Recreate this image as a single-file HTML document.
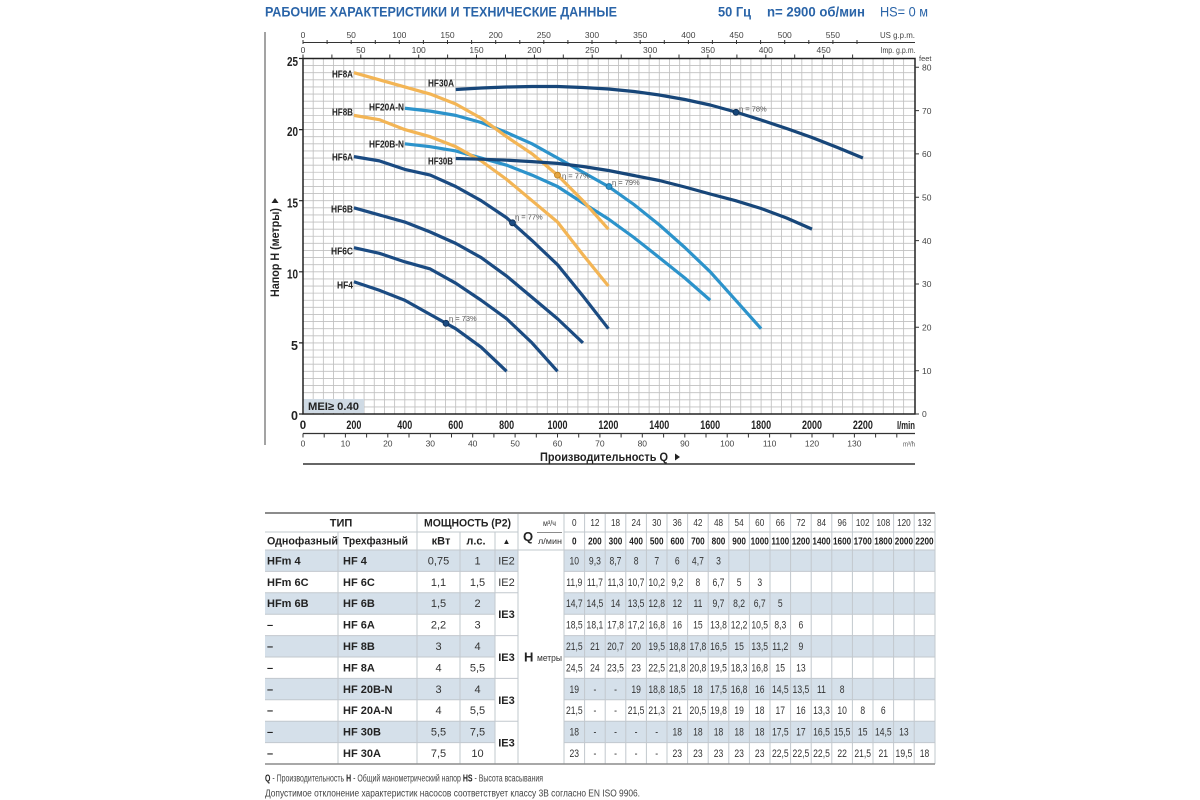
<!DOCTYPE html>
<html><head><meta charset="utf-8">
<style>
html,body{margin:0;padding:0;background:#fff;width:1200px;height:800px;overflow:hidden}
svg{display:block}
text{font-family:"Liberation Sans","DejaVu Sans",sans-serif}
.ax{font-size:8.5px;fill:#444;text-anchor:middle}
.yl{font-size:12.5px;font-weight:bold;fill:#222;text-anchor:end}
.xl{font-size:11.5px;font-weight:bold;fill:#222;text-anchor:middle}
.cl{font-size:10px;font-weight:bold;fill:#222;text-anchor:end}
.eta{font-size:7.5px;fill:#555}
.n{font-size:11px;fill:#333;text-anchor:middle}
.nb{font-size:10.5px;fill:#222;text-anchor:middle;font-weight:bold}
.nh{font-size:10.5px;fill:#333;text-anchor:middle}
.tb{font-size:11px;font-weight:bold;fill:#222}
.tn{font-size:11px;fill:#333;text-anchor:middle}
</style></head>
<body>
<svg width="1200" height="800" viewBox="0 0 1200 800" xmlns="http://www.w3.org/2000/svg">
<rect width="1200" height="800" fill="#fff"/>

<!-- Title -->
<text x="265" y="16.5" font-size="14" font-weight="bold" fill="#2a64a8" textLength="352" lengthAdjust="spacingAndGlyphs">РАБОЧИЕ ХАРАКТЕРИСТИКИ И ТЕХНИЧЕСКИЕ ДАННЫЕ</text>
<text x="718" y="16.5" font-size="14" font-weight="bold" fill="#2a64a8" textLength="33" lengthAdjust="spacingAndGlyphs">50 Гц</text>
<text x="767" y="16.5" font-size="14" font-weight="bold" fill="#2a64a8" textLength="98" lengthAdjust="spacingAndGlyphs">n= 2900 об/мин</text>
<text x="880" y="16.5" font-size="14" fill="#2a64a8" textLength="48" lengthAdjust="spacingAndGlyphs">HS= 0 м</text>

<!-- left vertical rule -->
<line x1="265" y1="32" x2="265" y2="445" stroke="#666" stroke-width="1.2"/>

<!-- grid -->
<path fill="none" stroke="#c0c0c0" stroke-width="0.85" d="M313.18 58.5
v355.5m10.18-355.5v355.5m10.18-355.5v355.5m10.18-355.5v355.5m10.18-355.5v355.5m10.18-355.5v355.5m10.18-355.5v355.5m10.18-355.5v355.5m10.18-355.5v355.5m10.18-355.5v355.5m10.18-355.5
v355.5m10.18-355.5v355.5m10.18-355.5v355.5m10.18-355.5v355.5m10.18-355.5v355.5m10.18-355.5v355.5m10.18-355.5v355.5m10.18-355.5v355.5m10.18-355.5v355.5m10.18-355.5v355.5m10.18-355.5
v355.5m10.18-355.5v355.5m10.18-355.5v355.5m10.18-355.5v355.5m10.18-355.5v355.5m10.18-355.5v355.5m10.18-355.5v355.5m10.18-355.5v355.5m10.18-355.5v355.5m10.18-355.5v355.5m10.18-355.5
v355.5m10.18-355.5v355.5m10.18-355.5v355.5m10.18-355.5v355.5m10.18-355.5v355.5m10.18-355.5v355.5m10.18-355.5v355.5m10.18-355.5v355.5m10.18-355.5v355.5m10.18-355.5v355.5m10.18-355.5
v355.5m10.18-355.5v355.5m10.18-355.5v355.5m10.18-355.5v355.5m10.18-355.5v355.5m10.18-355.5v355.5m10.18-355.5v355.5m10.18-355.5v355.5m10.18-355.5v355.5m10.18-355.5v355.5m10.18-355.5
v355.5m10.18-355.5v355.5m10.18-355.5v355.5m10.18-355.5v355.5m10.18-355.5v355.5m10.18-355.5v355.5m10.18-355.5v355.5m10.18-355.5v355.5m10.18-355.5v355.5m10.18-355.5
M303 406.89
h612m-612-7.11h612m-612-7.11h612m-612-7.11h612m-612-7.11h612m-612-7.11h612m-612-7.11h612m-612-7.11h612m-612-7.11h612m-612-7.11h612m-612-7.11
h612m-612-7.11h612m-612-7.11h612m-612-7.11h612m-612-7.11h612m-612-7.11h612m-612-7.11h612m-612-7.11h612m-612-7.11h612m-612-7.11h612m-612-7.11
h612m-612-7.11h612m-612-7.11h612m-612-7.11h612m-612-7.11h612m-612-7.11h612m-612-7.11h612m-612-7.11h612m-612-7.11h612m-612-7.11h612m-612-7.11
h612m-612-7.11h612m-612-7.11h612m-612-7.11h612m-612-7.11h612m-612-7.11h612m-612-7.11h612m-612-7.11h612m-612-7.11h612m-612-7.11h612m-612-7.11
h612m-612-7.11h612m-612-7.11h612m-612-7.11h612m-612-7.11h612m-612-7.11h612m-612-7.11h612m-612-7.11h612m-612-7.11h612m-612-7.11"/>

<!-- plot frame -->
<rect x="303" y="58.5" width="612" height="355.5" fill="none" stroke="#222" stroke-width="1.5"/>

<!-- US gpm axis -->
<line x1="303" y1="42.5" x2="915" y2="42.5" stroke="#333" stroke-width="1"/>
<path stroke="#333" stroke-width="1" d="M303 40v4M327.1 40v4M351.2 40v4M375.3 40v4M399.3 40v4M423.4 40v4M447.5 40v4M471.6 40v4M495.7 40v4M519.8 40v4M543.8 40v4M567.9 40v4M592 40v4M616.1 40v4M640.2 40v4M664.3 40v4M688.4 40v4M712.4 40v4M736.5 40v4M760.6 40v4M784.7 40v4M808.8 40v4M832.9 40v4M857 40v4"/>
<g class="ax">
<text x="303" y="38">0</text><text x="351.2" y="38">50</text><text x="399.3" y="38">100</text><text x="447.5" y="38">150</text><text x="495.7" y="38">200</text><text x="543.8" y="38">250</text><text x="592" y="38">300</text><text x="640.2" y="38">350</text><text x="688.4" y="38">400</text><text x="736.5" y="38">450</text><text x="784.7" y="38">500</text><text x="832.9" y="38">550</text>
</g>
<text x="880" y="38" font-size="8.5" fill="#444" textLength="35" lengthAdjust="spacingAndGlyphs">US g.p.m.</text>

<!-- Imp gpm axis -->
<path stroke="#333" stroke-width="1" d="M303 54.5v4M331.9 54.5v4M360.8 54.5v4M389.8 54.5v4M418.7 54.5v4M447.6 54.5v4M476.5 54.5v4M505.5 54.5v4M534.4 54.5v4M563.3 54.5v4M592.2 54.5v4M621.2 54.5v4M650.1 54.5v4M679 54.5v4M707.9 54.5v4M736.9 54.5v4M765.8 54.5v4M794.7 54.5v4M823.6 54.5v4M852.6 54.5v4"/>
<g class="ax">
<text x="303" y="53">0</text><text x="360.8" y="53">50</text><text x="418.7" y="53">100</text><text x="476.5" y="53">150</text><text x="534.4" y="53">200</text><text x="592.2" y="53">250</text><text x="650.1" y="53">300</text><text x="707.9" y="53">350</text><text x="765.8" y="53">400</text><text x="823.6" y="53">450</text>
</g>
<text x="880.5" y="53" font-size="8.5" fill="#444" textLength="35" lengthAdjust="spacingAndGlyphs">Imp. g.p.m.</text>

<!-- feet axis -->
<path stroke="#333" stroke-width="1" d="M915 67.3h4M915 110.6h4M915 153.9h4M915 197.3h4M915 240.6h4M915 284h4M915 327.3h4M915 370.7h4M915 414h4"/>
<text x="919" y="61" font-size="7.5" fill="#444">feet</text>
<g font-size="8.5" fill="#444">
<text x="922" y="70.5">80</text><text x="922" y="113.8">70</text><text x="922" y="157.1">60</text><text x="922" y="200.5">50</text><text x="922" y="243.8">40</text><text x="922" y="287.2">30</text><text x="922" y="330.5">20</text><text x="922" y="373.9">10</text><text x="922" y="417.2">0</text>
</g>

<!-- y axis labels -->
<path stroke="#222" stroke-width="1.2" d="M299 58.5h4M299 129.6h4M299 200.7h4M299 271.8h4M299 342.9h4M299 414h4"/>
<text class="yl" x="298" y="66" textLength="11" lengthAdjust="spacingAndGlyphs">25</text>
<text class="yl" x="298" y="136" textLength="11" lengthAdjust="spacingAndGlyphs">20</text>
<text class="yl" x="298" y="207.3" textLength="11" lengthAdjust="spacingAndGlyphs">15</text>
<text class="yl" x="298" y="278.3" textLength="11" lengthAdjust="spacingAndGlyphs">10</text>
<text class="yl" x="298" y="350">5</text>
<text class="yl" x="298" y="420">0</text>

<!-- y axis title -->
<text transform="translate(279,297) rotate(-90)" font-size="11.5" font-weight="bold" fill="#222" textLength="89" lengthAdjust="spacingAndGlyphs">Напор H (метры)</text>
<polygon points="271.5,203 278.5,203 275,198" fill="#222"/>

<!-- x axis l/min labels -->
<text class="xl" x="303" y="429">0</text>
<text class="xl" x="353.9" y="429" textLength="15" lengthAdjust="spacingAndGlyphs">200</text>
<text class="xl" x="404.8" y="429" textLength="15" lengthAdjust="spacingAndGlyphs">400</text>
<text class="xl" x="455.7" y="429" textLength="15" lengthAdjust="spacingAndGlyphs">600</text>
<text class="xl" x="506.6" y="429" textLength="15" lengthAdjust="spacingAndGlyphs">800</text>
<text class="xl" x="557.5" y="429" textLength="20" lengthAdjust="spacingAndGlyphs">1000</text>
<text class="xl" x="608.4" y="429" textLength="20" lengthAdjust="spacingAndGlyphs">1200</text>
<text class="xl" x="659.3" y="429" textLength="20" lengthAdjust="spacingAndGlyphs">1400</text>
<text class="xl" x="710.2" y="429" textLength="20" lengthAdjust="spacingAndGlyphs">1600</text>
<text class="xl" x="761.1" y="429" textLength="20" lengthAdjust="spacingAndGlyphs">1800</text>
<text class="xl" x="812" y="429" textLength="20" lengthAdjust="spacingAndGlyphs">2000</text>
<text class="xl" x="862.9" y="429" textLength="20" lengthAdjust="spacingAndGlyphs">2200</text>
<text x="897" y="429" font-size="11" font-weight="bold" fill="#222" textLength="18" lengthAdjust="spacingAndGlyphs">l/min</text>

<!-- m3/h axis -->
<line x1="303" y1="433.5" x2="915" y2="433.5" stroke="#333" stroke-width="1.2"/>
<path stroke="#333" stroke-width="1" d="M303 433.5v4M324.2 433.5v4M345.4 433.5v4M366.6 433.5v4M387.8 433.5v4M409 433.5v4M430.3 433.5v4M451.5 433.5v4M472.7 433.5v4M493.9 433.5v4M515.1 433.5v4M536.3 433.5v4M557.5 433.5v4M578.7 433.5v4M599.9 433.5v4M621.1 433.5v4M642.3 433.5v4M663.6 433.5v4M684.8 433.5v4M706 433.5v4M727.2 433.5v4M748.4 433.5v4M769.6 433.5v4M790.8 433.5v4M812 433.5v4M833.2 433.5v4M854.4 433.5v4M875.6 433.5v4M896.8 433.5v4"/>
<g class="ax" fill="#555">
<text x="303" y="446.5">0</text><text x="345.4" y="446.5">10</text><text x="387.8" y="446.5">20</text><text x="430.3" y="446.5">30</text><text x="472.7" y="446.5">40</text><text x="515.1" y="446.5">50</text><text x="557.5" y="446.5">60</text><text x="599.9" y="446.5">70</text><text x="642.3" y="446.5">80</text><text x="684.8" y="446.5">90</text><text x="727.2" y="446.5">100</text><text x="769.6" y="446.5">110</text><text x="812" y="446.5">120</text><text x="854.4" y="446.5">130</text>
</g>
<text x="903" y="446.5" font-size="7.5" fill="#555" textLength="12" lengthAdjust="spacingAndGlyphs">m³/h</text>

<text x="540" y="461" font-size="11.5" font-weight="bold" fill="#222" textLength="128" lengthAdjust="spacingAndGlyphs">Производительность Q</text>
<polygon points="675,453.5 680,457 675,460.5" fill="#222"/>
<line x1="303" y1="464" x2="915" y2="464" stroke="#333" stroke-width="1.5"/>

<!-- MEI box -->
<rect x="304" y="399" width="60" height="14" fill="#cfdae4"/>
<text x="308" y="410" font-size="11" font-weight="bold" fill="#222" textLength="51" lengthAdjust="spacingAndGlyphs">MEI≥ 0.40</text>

<!-- curves -->
<g fill="none" stroke-width="3.2" stroke-linejoin="round" stroke-linecap="butt">
<path stroke="#2c93cb" d="M404.8 143.82L430.25 146.67L455.7 150.93L481.15 158.04L506.6 165.15L532.05 175.1L557.5 186.48L582.95 203L608.4 219L633.9 237.5L659.3 257.58L684.8 278L710.2 300.24"/>
<path stroke="#2c93cb" d="M404.8 108.27L430.25 111.11L455.7 115.38L481.15 122.49L506.6 132.44L532.05 143.82L557.5 158.04L582.95 172.26L608.4 186.48L633.9 204.5L659.3 224.87L684.8 247.5L710.2 271.8L735.65 300.24L761.1 328.68"/>
<path stroke="#f3b555" d="M353.9 115.38L379.35 119.65L404.8 129.6L430.25 136.71L455.7 146.67L481.15 160.88L506.6 179.37L532.05 200.7L557.5 222.03L582.95 254.74L608.4 286.02"/>
<path stroke="#f3b555" d="M353.9 72.72L379.35 79.83L404.8 86.94L430.25 94.05L455.7 104L481.15 118.22L506.6 136.71L532.05 153.78L557.5 175.1L582.95 200.7L608.4 229.14"/>
<path stroke="#1b4b82" d="M353.9 281.75L379.35 290.29L404.8 300.24L430.25 314.46L455.7 328.68L481.15 347.17L506.6 371.34"/>
<path stroke="#1b4b82" d="M353.9 247.63L379.35 253.31L404.8 261.85L430.25 268.96L455.7 283.18L481.15 300.24L506.6 318.73L532.05 342.9L557.5 371.34"/>
<path stroke="#1b4b82" d="M353.9 207.81L379.35 214.92L404.8 222.03L430.25 231.98L455.7 243.36L481.15 257.58L506.6 276.07L532.05 297.4L557.5 318.73L582.95 342.9"/>
<path stroke="#1b4b82" d="M353.9 156.62L379.35 160.88L404.8 169.42L430.25 175.1L455.7 186.48L481.15 200.7L506.6 217.76L532.05 240.52L557.5 264.69L582.95 295.97L608.4 328.68"/>
<path stroke="#174679" d="M455.7 158.5L481.15 159.2L506.6 160.2L532.05 161.6L557.5 163.4L582.95 166.5L608.4 170.5L633.9 175.5L659.3 180.5L684.8 187L710.2 194L735.65 200.7L761.1 208.5L786.6 218L812 229.1"/>
<path stroke="#174679" d="M455.7 89.5L481.15 88L506.6 87L532.05 86.5L557.5 86.5L582.95 87.5L608.4 89L633.9 91.5L659.3 95L684.8 99.5L710.2 105L735.65 112L761.1 120L786.6 128.5L812 137.5L837.5 147.5L862.9 158"/>
</g>

<!-- efficiency points -->
<circle cx="446" cy="323.3" r="3" fill="#1b4b82" stroke="#0e2d52" stroke-width="0.8"/>
<circle cx="512.5" cy="222.8" r="3" fill="#1b4b82" stroke="#0e2d52" stroke-width="0.8"/>
<circle cx="557.5" cy="175.1" r="3" fill="#e6a640" stroke="#b57a1e" stroke-width="0.8"/>
<circle cx="609" cy="186.5" r="3" fill="#2c93cb" stroke="#1a6a99" stroke-width="0.8"/>
<circle cx="736" cy="112.3" r="3" fill="#174679" stroke="#0e2d52" stroke-width="0.8"/>
<text class="eta" x="449" y="321">η = 73%</text>
<text class="eta" x="515" y="219.5">η = 77%</text>
<text class="eta" x="562" y="178.5">η = 77%</text>
<text class="eta" x="612" y="185">η = 79%</text>
<text class="eta" x="739" y="111.5">η = 78%</text>

<!-- curve labels -->
<text class="cl" x="353" y="77.5" textLength="21" lengthAdjust="spacingAndGlyphs">HF8A</text>
<text class="cl" x="353" y="115.5" textLength="21" lengthAdjust="spacingAndGlyphs">HF8B</text>
<text class="cl" x="353" y="160.5" textLength="21" lengthAdjust="spacingAndGlyphs">HF6A</text>
<text class="cl" x="353" y="212.5" textLength="22" lengthAdjust="spacingAndGlyphs">HF6B</text>
<text class="cl" x="353" y="254.5" textLength="22" lengthAdjust="spacingAndGlyphs">HF6C</text>
<text class="cl" x="353" y="288.5" textLength="16" lengthAdjust="spacingAndGlyphs">HF4</text>
<text class="cl" x="454" y="86.5" textLength="26" lengthAdjust="spacingAndGlyphs">HF30A</text>
<text class="cl" x="404" y="110.5" textLength="35" lengthAdjust="spacingAndGlyphs">HF20A-N</text>
<text class="cl" x="404" y="147.5" textLength="35" lengthAdjust="spacingAndGlyphs">HF20B-N</text>
<text class="cl" x="453" y="164.5" textLength="25" lengthAdjust="spacingAndGlyphs">HF30B</text>

<!-- ===== TABLE ===== -->
<g fill="#d5e0ea">
<rect x="265" y="550" width="253" height="21.4"/>
<rect x="265" y="592.8" width="230" height="21.4"/>
<rect x="265" y="635.6" width="230" height="21.4"/>
<rect x="265" y="678.4" width="230" height="21.4"/>
<rect x="265" y="721.2" width="230" height="21.4"/>
<rect x="564" y="550" width="371" height="21.4"/>
<rect x="564" y="592.8" width="371" height="21.4"/>
<rect x="564" y="635.6" width="371" height="21.4"/>
<rect x="564" y="678.4" width="371" height="21.4"/>
<rect x="564" y="721.2" width="371" height="21.4"/>
</g>
<g stroke="#c2c8ce" stroke-width="1" fill="none">
<path d="M265 571.4H495M265 592.8H495M265 614.2H495M265 635.6H495M265 657H495M265 678.4H495M265 699.8H495M265 721.2H495M265 742.6H495"/>
<path d="M564 571.4H935M564 592.8H935M564 614.2H935M564 635.6H935M564 657H935M564 678.4H935M564 699.8H935M564 721.2H935M564 742.6H935"/>
<path d="M495 571.4H518M495 592.8H518M495 635.6H518M495 678.4H518M495 721.2H518"/>
<path d="M265 532H518M564 532H935M265 550H935"/>
<path d="M338 532V764M460 532V764M495 532V764M417 513V764M518 513V764M564 513V764M935 513V764"/>
<path d="M584.6 513V764M605.2 513V764M625.8 513V764M646.4 513V764M667 513V764M687.6 513V764M708.2 513V764M728.8 513V764M749.4 513V764M770 513V764M790.6 513V764M811.2 513V764M831.8 513V764M852.4 513V764M873 513V764M893.6 513V764M914.2 513V764"/>
</g>
<line x1="265" y1="513" x2="935" y2="513" stroke="#8c8c8c" stroke-width="2"/>
<line x1="265" y1="764" x2="935" y2="764" stroke="#8c8c8c" stroke-width="1.5"/>
<line x1="537" y1="532.5" x2="562" y2="532.5" stroke="#666" stroke-width="0.8"/>

<!-- header texts -->
<text class="tb" x="341" y="526.5" text-anchor="middle" font-size="11.5">ТИП</text>
<text class="tb" x="467.5" y="526.5" text-anchor="middle" textLength="87" lengthAdjust="spacingAndGlyphs">МОЩНОСТЬ (P2)</text>
<text x="523" y="541" font-size="13" font-weight="bold" fill="#222">Q</text>
<text x="549.5" y="526" font-size="8" fill="#333" text-anchor="middle" textLength="13" lengthAdjust="spacingAndGlyphs">м³/ч</text>
<text x="550" y="544" font-size="8.5" fill="#333" text-anchor="middle" textLength="24" lengthAdjust="spacingAndGlyphs">л/мин</text>
<text class="tb" x="267" y="544.5" textLength="71" lengthAdjust="spacingAndGlyphs">Однофазный</text>
<text class="tb" x="343" y="544.5" textLength="65" lengthAdjust="spacingAndGlyphs">Трехфазный</text>
<text class="tb" x="441" y="544.5" text-anchor="middle">кВт</text>
<text class="tb" x="476" y="544.5" text-anchor="middle">л.с.</text>
<text x="506.5" y="544" font-size="8" fill="#222" text-anchor="middle">▲</text>

<!-- left columns data -->
<g class="tb">
<text x="267" y="564.4">HFm 4</text><text x="267" y="585.8">HFm 6C</text><text x="267" y="607.2">HFm 6B</text>
<text x="267" y="628.6">–</text><text x="267" y="650">–</text><text x="267" y="671.4">–</text><text x="267" y="692.8">–</text><text x="267" y="714.2">–</text><text x="267" y="735.6">–</text><text x="267" y="757">–</text>
<text x="343" y="564.4">HF 4</text><text x="343" y="585.8">HF 6C</text><text x="343" y="607.2">HF 6B</text><text x="343" y="628.6">HF 6A</text><text x="343" y="650">HF 8B</text><text x="343" y="671.4">HF 8A</text><text x="343" y="692.8">HF 20B-N</text><text x="343" y="714.2">HF 20A-N</text><text x="343" y="735.6">HF 30B</text><text x="343" y="757">HF 30A</text>
</g>
<g class="tn">
<text x="438.5" y="564.4">0,75</text><text x="438.5" y="585.8">1,1</text><text x="438.5" y="607.2">1,5</text><text x="438.5" y="628.6">2,2</text><text x="438.5" y="650">3</text><text x="438.5" y="671.4">4</text><text x="438.5" y="692.8">3</text><text x="438.5" y="714.2">4</text><text x="438.5" y="735.6">5,5</text><text x="438.5" y="757">7,5</text>
<text x="477.5" y="564.4">1</text><text x="477.5" y="585.8">1,5</text><text x="477.5" y="607.2">2</text><text x="477.5" y="628.6">3</text><text x="477.5" y="650">4</text><text x="477.5" y="671.4">5,5</text><text x="477.5" y="692.8">4</text><text x="477.5" y="714.2">5,5</text><text x="477.5" y="735.6">7,5</text><text x="477.5" y="757">10</text>
<text x="506.5" y="564.4">IE2</text><text x="506.5" y="585.8">IE2</text>
</g>
<g class="tb" text-anchor="middle">
<text x="506.5" y="618.2" text-anchor="middle">IE3</text><text x="506.5" y="661" text-anchor="middle">IE3</text><text x="506.5" y="703.8" text-anchor="middle">IE3</text><text x="506.5" y="746.6" text-anchor="middle">IE3</text>
</g>
<text x="524" y="661.5" font-size="13" font-weight="bold" fill="#222">H</text>
<text x="537" y="661" font-size="9.5" fill="#333" textLength="25" lengthAdjust="spacingAndGlyphs">метры</text>

<!-- numeric columns -->
<g transform="translate(574.3,0) scale(0.78,1)"><text class="nh" y="526">0</text><text class="nb" y="544.5">0</text><text class="n" y="564.4">10</text><text class="n" y="585.8">11,9</text><text class="n" y="607.2">14,7</text><text class="n" y="628.6">18,5</text><text class="n" y="650">21,5</text><text class="n" y="671.4">24,5</text><text class="n" y="692.8">19</text><text class="n" y="714.2">21,5</text><text class="n" y="735.6">18</text><text class="n" y="757">23</text></g>
<g transform="translate(594.9,0) scale(0.78,1)"><text class="nh" y="526">12</text><text class="nb" y="544.5">200</text><text class="n" y="564.4">9,3</text><text class="n" y="585.8">11,7</text><text class="n" y="607.2">14,5</text><text class="n" y="628.6">18,1</text><text class="n" y="650">21</text><text class="n" y="671.4">24</text><text class="n" y="692.8">-</text><text class="n" y="714.2">-</text><text class="n" y="735.6">-</text><text class="n" y="757">-</text></g>
<g transform="translate(615.5,0) scale(0.78,1)"><text class="nh" y="526">18</text><text class="nb" y="544.5">300</text><text class="n" y="564.4">8,7</text><text class="n" y="585.8">11,3</text><text class="n" y="607.2">14</text><text class="n" y="628.6">17,8</text><text class="n" y="650">20,7</text><text class="n" y="671.4">23,5</text><text class="n" y="692.8">-</text><text class="n" y="714.2">-</text><text class="n" y="735.6">-</text><text class="n" y="757">-</text></g>
<g transform="translate(636.1,0) scale(0.78,1)"><text class="nh" y="526">24</text><text class="nb" y="544.5">400</text><text class="n" y="564.4">8</text><text class="n" y="585.8">10,7</text><text class="n" y="607.2">13,5</text><text class="n" y="628.6">17,2</text><text class="n" y="650">20</text><text class="n" y="671.4">23</text><text class="n" y="692.8">19</text><text class="n" y="714.2">21,5</text><text class="n" y="735.6">-</text><text class="n" y="757">-</text></g>
<g transform="translate(656.7,0) scale(0.78,1)"><text class="nh" y="526">30</text><text class="nb" y="544.5">500</text><text class="n" y="564.4">7</text><text class="n" y="585.8">10,2</text><text class="n" y="607.2">12,8</text><text class="n" y="628.6">16,8</text><text class="n" y="650">19,5</text><text class="n" y="671.4">22,5</text><text class="n" y="692.8">18,8</text><text class="n" y="714.2">21,3</text><text class="n" y="735.6">-</text><text class="n" y="757">-</text></g>
<g transform="translate(677.3,0) scale(0.78,1)"><text class="nh" y="526">36</text><text class="nb" y="544.5">600</text><text class="n" y="564.4">6</text><text class="n" y="585.8">9,2</text><text class="n" y="607.2">12</text><text class="n" y="628.6">16</text><text class="n" y="650">18,8</text><text class="n" y="671.4">21,8</text><text class="n" y="692.8">18,5</text><text class="n" y="714.2">21</text><text class="n" y="735.6">18</text><text class="n" y="757">23</text></g>
<g transform="translate(697.9,0) scale(0.78,1)"><text class="nh" y="526">42</text><text class="nb" y="544.5">700</text><text class="n" y="564.4">4,7</text><text class="n" y="585.8">8</text><text class="n" y="607.2">11</text><text class="n" y="628.6">15</text><text class="n" y="650">17,8</text><text class="n" y="671.4">20,8</text><text class="n" y="692.8">18</text><text class="n" y="714.2">20,5</text><text class="n" y="735.6">18</text><text class="n" y="757">23</text></g>
<g transform="translate(718.5,0) scale(0.78,1)"><text class="nh" y="526">48</text><text class="nb" y="544.5">800</text><text class="n" y="564.4">3</text><text class="n" y="585.8">6,7</text><text class="n" y="607.2">9,7</text><text class="n" y="628.6">13,8</text><text class="n" y="650">16,5</text><text class="n" y="671.4">19,5</text><text class="n" y="692.8">17,5</text><text class="n" y="714.2">19,8</text><text class="n" y="735.6">18</text><text class="n" y="757">23</text></g>
<g transform="translate(739.1,0) scale(0.78,1)"><text class="nh" y="526">54</text><text class="nb" y="544.5">900</text><text class="n" y="585.8">5</text><text class="n" y="607.2">8,2</text><text class="n" y="628.6">12,2</text><text class="n" y="650">15</text><text class="n" y="671.4">18,3</text><text class="n" y="692.8">16,8</text><text class="n" y="714.2">19</text><text class="n" y="735.6">18</text><text class="n" y="757">23</text></g>
<g transform="translate(759.7,0) scale(0.78,1)"><text class="nh" y="526">60</text><text class="nb" y="544.5">1000</text><text class="n" y="585.8">3</text><text class="n" y="607.2">6,7</text><text class="n" y="628.6">10,5</text><text class="n" y="650">13,5</text><text class="n" y="671.4">16,8</text><text class="n" y="692.8">16</text><text class="n" y="714.2">18</text><text class="n" y="735.6">18</text><text class="n" y="757">23</text></g>
<g transform="translate(780.3,0) scale(0.78,1)"><text class="nh" y="526">66</text><text class="nb" y="544.5">1100</text><text class="n" y="607.2">5</text><text class="n" y="628.6">8,3</text><text class="n" y="650">11,2</text><text class="n" y="671.4">15</text><text class="n" y="692.8">14,5</text><text class="n" y="714.2">17</text><text class="n" y="735.6">17,5</text><text class="n" y="757">22,5</text></g>
<g transform="translate(800.9,0) scale(0.78,1)"><text class="nh" y="526">72</text><text class="nb" y="544.5">1200</text><text class="n" y="628.6">6</text><text class="n" y="650">9</text><text class="n" y="671.4">13</text><text class="n" y="692.8">13,5</text><text class="n" y="714.2">16</text><text class="n" y="735.6">17</text><text class="n" y="757">22,5</text></g>
<g transform="translate(821.5,0) scale(0.78,1)"><text class="nh" y="526">84</text><text class="nb" y="544.5">1400</text><text class="n" y="692.8">11</text><text class="n" y="714.2">13,3</text><text class="n" y="735.6">16,5</text><text class="n" y="757">22,5</text></g>
<g transform="translate(842.1,0) scale(0.78,1)"><text class="nh" y="526">96</text><text class="nb" y="544.5">1600</text><text class="n" y="692.8">8</text><text class="n" y="714.2">10</text><text class="n" y="735.6">15,5</text><text class="n" y="757">22</text></g>
<g transform="translate(862.7,0) scale(0.78,1)"><text class="nh" y="526">102</text><text class="nb" y="544.5">1700</text><text class="n" y="714.2">8</text><text class="n" y="735.6">15</text><text class="n" y="757">21,5</text></g>
<g transform="translate(883.3,0) scale(0.78,1)"><text class="nh" y="526">108</text><text class="nb" y="544.5">1800</text><text class="n" y="714.2">6</text><text class="n" y="735.6">14,5</text><text class="n" y="757">21</text></g>
<g transform="translate(903.9,0) scale(0.78,1)"><text class="nh" y="526">120</text><text class="nb" y="544.5">2000</text><text class="n" y="735.6">13</text><text class="n" y="757">19,5</text></g>
<g transform="translate(924.5,0) scale(0.78,1)"><text class="nh" y="526">132</text><text class="nb" y="544.5">2200</text><text class="n" y="757">18</text></g>

<!-- footer -->
<text x="265" y="781.5" font-size="10" fill="#444" textLength="278" lengthAdjust="spacingAndGlyphs"><tspan font-weight="bold" fill="#222">Q</tspan> - Производительность  <tspan font-weight="bold" fill="#222">H</tspan> - Общий манометрический напор  <tspan font-weight="bold" fill="#222">HS</tspan> - Высота всасывания</text>
<text x="265" y="796.5" font-size="10" fill="#444" textLength="375" lengthAdjust="spacingAndGlyphs">Допустимое отклонение характеристик насосов соответствует классу 3В согласно EN ISO 9906.</text>
</svg>
</body></html>
